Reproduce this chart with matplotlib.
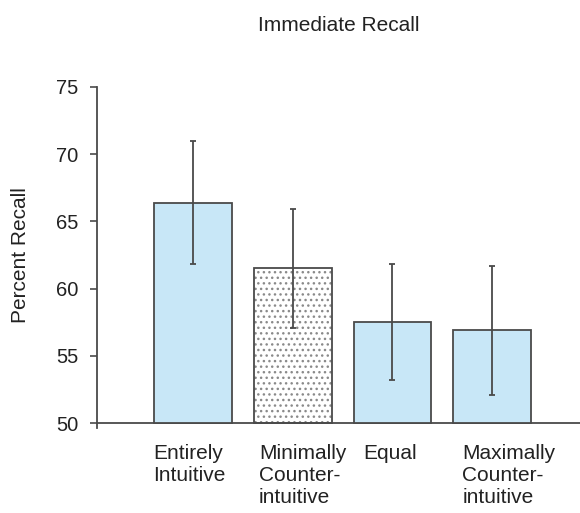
import matplotlib
matplotlib.use("Agg")
import matplotlib.pyplot as plt
import matplotlib.transforms as mtransforms
import numpy as np

plt.rcParams['font.family'] = ['Liberation Sans', 'DejaVu Sans']

# ---- data ----
categories = ["Entirely\nIntuitive", "Minimally\nCounter-\nintuitive", "Equal",
              "Maximally\nCounter-\nintuitive"]
recall = [66.4, 61.5, 57.5, 56.9]
errors = [4.6, 4.45, 4.3, 4.8]
hatched = [False, True, False, False]
yticks = [50, 55, 60, 65, 70, 75]
title = "Immediate Recall"
ylabel = "Percent Recall"

# ---- style / layout ----
W, H, DPI = 580, 513, 100
line_col = "#4a4a4a"
bar_col = "#c8e7f7"
baseline_val = 50
label_shift_px = [-1, 5, 10, 9]

fig = plt.figure(figsize=(W / DPI, H / DPI), dpi=DPI)
ax = fig.add_axes([97 / W, (H - 428) / H, 1 - 97 / W, (428 - 87) / H])

x = np.arange(len(categories))
vals = np.array(recall)
width = 0.78
for i in range(len(x)):
    if hatched[i]:
        ax.bar(x[i], vals[i] - baseline_val, bottom=baseline_val, width=width,
               color="white", edgecolor="#8a8a8a", hatch="...", linewidth=0, zorder=2)
        ax.bar(x[i], vals[i] - baseline_val, bottom=baseline_val, width=width,
               fill=False, edgecolor=line_col, linewidth=1.3, zorder=3)
    else:
        ax.bar(x[i], vals[i] - baseline_val, bottom=baseline_val, width=width,
               color=bar_col, edgecolor=line_col, linewidth=1.3, zorder=3)

ax.errorbar(x, vals, yerr=errors, fmt="none", ecolor=line_col, elinewidth=1.3,
            capsize=2.3, capthick=1.3, zorder=4)

ax.set_xlim(-0.963, 3.882)
ax.set_ylim(49.63, 75)
ax.spines['bottom'].set_position(('data', baseline_val))
ax.spines['top'].set_visible(False)
ax.spines['right'].set_visible(False)
for s in ('left', 'bottom'):
    ax.spines[s].set_color(line_col)
    ax.spines[s].set_linewidth(1.3)
ax.spines['left'].set_bounds(49.63, 75)

ax.set_yticks(yticks)
ax.set_yticklabels([str(t) for t in yticks])
ax.tick_params(axis='y', direction='out', length=5, width=1.2, color=line_col,
               labelsize=14.5, labelcolor="#222222", pad=8.6)
ax.set_xticks([])

# category labels, left aligned under bars
trans = mtransforms.blended_transform_factory(ax.transData, ax.transAxes)
for i, lab in enumerate(categories):
    off = mtransforms.offset_copy(trans, fig=fig, x=label_shift_px[i] * 0.72,
                                  y=-16 * 0.72, units='points')
    ax.text(x[i] - width / 2, 0, lab, transform=off, ha='left', va='top',
            fontsize=15, color="#222222", linespacing=1.2)

fig.text(338.5 / W, (H - 31) / H, title, ha='center', va='baseline',
         fontsize=15, color="#222222")
fig.text(20.8 / W, (H - 255) / H, ylabel, rotation=90, ha='center', va='center',
         fontsize=15, color="#222222")

fig.savefig("out.png", dpi=DPI)
